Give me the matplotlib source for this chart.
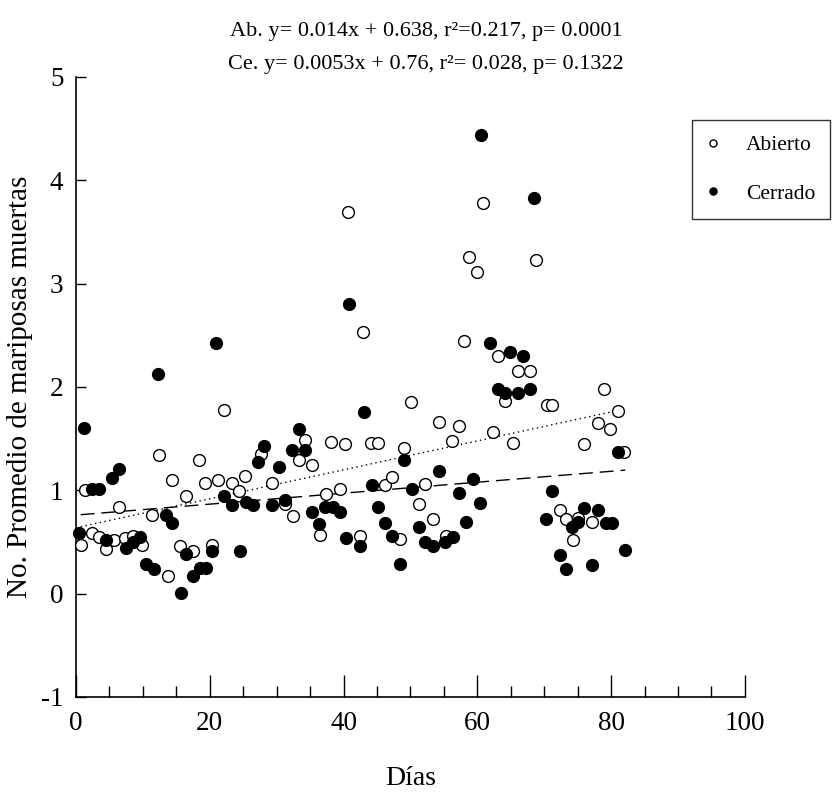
import matplotlib
matplotlib.use("Agg")
import matplotlib.pyplot as plt
import numpy as np

# Abierto (open) - days and mean dead butterflies
ab_dias = [0.7, 1.3, 2.4, 3.4, 4.5, 5.7, 6.5, 7.4, 8.5, 9.8, 11.4, 12.4, 13.7, 14.4,
           15.6, 16.4, 17.5, 18.4, 19.3, 20.4, 21.3, 22.2, 23.3, 24.4, 25.3, 27.7,
           29.3, 31.3, 32.5, 33.4, 34.3, 35.3, 36.5, 37.4, 38.2, 39.4, 40.2, 40.7,
           42.4, 42.9, 44.1, 45.1, 46.2, 47.3, 48.4, 49.0, 50.1, 51.3, 52.2, 53.4,
           54.2, 55.3, 56.2, 57.3, 58.0, 58.8, 60.0, 60.8, 62.3, 63.1, 64.2, 65.3,
           66.1, 67.9, 68.7, 70.4, 71.2, 72.3, 73.2, 74.3, 75.1, 75.9, 77.1, 78.0,
           78.9, 79.9, 81.0, 82.0]
ab_vals = [0.47, 1.00, 0.59, 0.55, 0.43, 0.52, 0.84, 0.54, 0.56, 0.47, 0.76, 1.34, 0.17, 1.10,
           0.46, 0.94, 0.41, 1.29, 1.07, 0.47, 1.10, 1.78, 1.07, 0.99, 1.14, 1.35,
           1.07, 0.87, 0.75, 1.29, 1.49, 1.24, 0.57, 0.96, 1.47, 1.01, 1.45, 3.69,
           0.56, 2.53, 1.46, 1.46, 1.05, 1.13, 0.53, 1.41, 1.85, 0.87, 1.06, 0.72,
           1.66, 0.56, 1.48, 1.62, 2.44, 3.26, 3.11, 3.78, 1.56, 2.30, 1.86, 1.46,
           2.15, 2.15, 3.23, 1.83, 1.83, 0.81, 0.72, 0.52, 0.73, 1.45, 0.69, 1.65,
           1.98, 1.59, 1.77, 1.37]

# Cerrado (closed)
ce_dias = [0.45, 1.2, 2.4, 3.5, 4.5, 5.4, 6.5, 7.5, 8.5, 9.5, 10.5, 11.7, 12.2, 13.4,
           14.4, 15.7, 16.4, 17.5, 18.5, 19.5, 20.4, 20.9, 22.2, 23.3, 24.5, 25.4,
           26.5, 27.2, 28.1, 29.3, 30.3, 31.3, 32.3, 33.3, 34.3, 35.3, 36.3, 37.3,
           38.4, 39.4, 40.3, 40.8, 42.4, 43.0, 44.2, 45.2, 46.2, 47.3, 48.4, 49.0,
           50.3, 51.3, 52.2, 53.3, 54.2, 55.2, 56.3, 57.2, 58.3, 59.4, 60.4, 60.6,
           61.9, 63.1, 64.1, 64.9, 66.1, 66.9, 67.9, 68.5, 70.2, 71.2, 72.3, 73.3,
           74.2, 75.1, 76.0, 77.1, 78.1, 79.2, 80.2, 81.0, 82.1]
ce_vals = [0.59, 1.60, 1.01, 1.01, 0.52, 1.12, 1.21, 0.44, 0.50, 0.55, 0.29, 0.24, 2.13, 0.76,
           0.68, 0.01, 0.38, 0.17, 0.25, 0.25, 0.41, 2.43, 0.94, 0.86, 0.41, 0.89,
           0.86, 1.27, 1.43, 0.86, 1.23, 0.91, 1.39, 1.59, 1.39, 0.79, 0.67, 0.84,
           0.84, 0.79, 0.54, 2.80, 0.46, 1.76, 1.05, 0.84, 0.68, 0.56, 0.29, 1.29,
           1.01, 0.64, 0.50, 0.46, 1.19, 0.50, 0.55, 0.97, 0.69, 1.11, 0.88, 4.44,
           2.43, 1.98, 1.94, 2.34, 1.94, 2.30, 1.98, 3.83, 0.72, 0.99, 0.37, 0.24,
           0.64, 0.69, 0.83, 0.28, 0.81, 0.68, 0.68, 1.37, 0.42]

# regression lines (slope, intercept)
ab_fit = (0.014, 0.638)
ce_fit = (0.0053, 0.76)

plt.rcParams["font.family"] = ["Liberation Serif", "DejaVu Serif"]
plt.rcParams["axes.unicode_minus"] = False

fig = plt.figure(figsize=(8.32, 7.97), dpi=100)
ax = fig.add_axes([0.0913, 0.1255, 0.804, 0.778])

ax.plot(ab_dias, ab_vals, linestyle="none", marker="o", markersize=8.5,
        markerfacecolor="white", markeredgecolor="black", markeredgewidth=1.0,
        label="Abierto", clip_on=False, zorder=3)
ax.plot(ce_dias, ce_vals, linestyle="none", marker="o", markersize=8.5,
        markerfacecolor="black", markeredgecolor="black",
        label="Cerrado", clip_on=False, zorder=4)

xx = np.array([0, max(ab_dias)])
ax.plot(xx, ab_fit[0] * xx + ab_fit[1], color="black", linewidth=1.0,
        linestyle=(0, (1, 2.5)), zorder=2)
xx = np.array([0.7, max(ce_dias)])
ax.plot(xx, ce_fit[0] * xx + ce_fit[1], color="black", linewidth=1.0,
        linestyle=(0, (10, 5)), zorder=2)

ax.set_xlim(0, 100)
ax.set_ylim(-1, 5)
ax.spines["top"].set_visible(False)
ax.spines["right"].set_visible(False)
ax.spines["left"].set_linewidth(1.2)
ax.spines["bottom"].set_linewidth(1.2)

ax.set_xticks(np.arange(0, 101, 20))
ax.set_xticks(np.arange(0, 101, 5), minor=True)
ax.set_yticks(np.arange(-1, 6, 1))
ax.tick_params(axis="x", which="major", direction="in", length=16, width=1,
               labelsize=19.5, pad=10)
ax.tick_params(axis="x", which="minor", direction="in", length=8, width=1)
ax.tick_params(axis="y", which="major", direction="in", length=7, width=1,
               labelsize=19.5, pad=9)

ax.set_xlabel("Días", fontsize=20, labelpad=22)
ax.set_ylabel("No. Promedio de mariposas muertas", fontsize=21, labelpad=6)

fig.text(0.512, 0.960, "Ab. y= 0.014x + 0.638, r²=0.217, p= 0.0001",
         ha="center", va="center", fontsize=16)
fig.text(0.512, 0.919, "Ce. y= 0.0053x + 0.76, r²= 0.028, p= 0.1322",
         ha="center", va="center", fontsize=16)

leg = ax.legend(loc="upper right", bbox_to_anchor=(0.998, 0.849),
                bbox_transform=fig.transFigure, fontsize=15.5, markerscale=0.6,
                frameon=True, fancybox=False, edgecolor="black",
                labelspacing=1.3, handlelength=0.5, handletextpad=1.3,
                borderpad=0.7, borderaxespad=0)
leg.get_frame().set_linewidth(1.0)

fig.savefig("out.png", dpi=100, facecolor="white")
